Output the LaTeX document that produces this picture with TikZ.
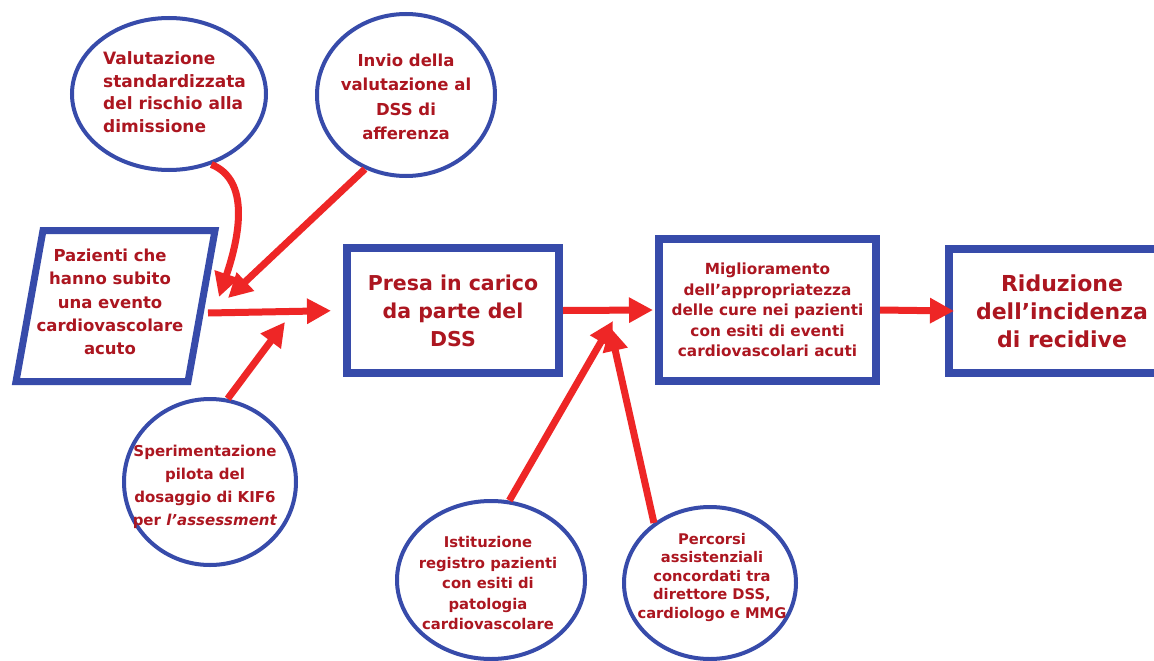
\documentclass[tikz,border=0pt]{standalone}
\usepackage{fontspec}
\setmainfont{DejaVu Sans}
\usetikzlibrary{shapes.geometric, arrows.meta, positioning}
\definecolor{dssblue}{RGB}{55, 75, 170}
\definecolor{arrred}{RGB}{238, 38, 38}
\definecolor{txtred}{RGB}{172, 22, 32}
\newcommand{\txtsize}[2]{\fontsize{#1}{#2}\selectfont}

\begin{document}
\begin{tikzpicture}[x=1pt, y=-1pt,
    box/.style={draw=dssblue, line width=8pt, fill=white, inner sep=0pt, align=center, text=txtred},
    bubble/.style={ellipse, draw=dssblue, line width=4pt, fill=white, inner sep=0pt},
    bubbletxt/.style={align=center, text=txtred, inner sep=0pt},
    flow/.style={draw=arrred, line width=7pt, -{Triangle[length=24pt, width=24pt]}}
]
    \useasboundingbox (0,0) rectangle (1154,661);
    \fill[white] (0,0) rectangle (1154,661);

    % Bubbles
    \node[bubble, minimum width=194pt, minimum height=152pt] (valut) at (169,94) {};
    \node[bubble, minimum width=178pt, minimum height=162pt] (invio) at (406,95) {};
    \node[bubble, minimum width=172pt, minimum height=166pt] (speri) at (210,482) {};
    \node[bubble, minimum width=188pt, minimum height=158pt] (istit) at (491,580) {};
    \node[bubble, minimum width=172pt, minimum height=152pt] (percor) at (710,583) {};

    \node[bubbletxt, align=left, anchor=west, font=\bfseries\txtsize{17}{22.5}] (valut-txt) at (103,92)
        {Valutazione\\standardizzata\\del rischio alla\\dimissione};
    \node[bubbletxt, font=\bfseries\txtsize{16.5}{24.5}] (invio-txt) at (406,97)
        {Invio della\\valutazione al\\DSS di\\afferenza};
    \node[bubbletxt, font=\bfseries\txtsize{15}{23}] (speri-txt) at (205,487)
        {Sperimentazione\\pilota del\\dosaggio di KIF6\\per \textit{l’assessment}};
    \node[bubbletxt, font=\bfseries\txtsize{14.8}{20.5}] (istit-txt) at (488,583)
        {Istituzione\\registro pazienti\\con esiti di\\patologia\\cardiovascolare};
    \node[bubbletxt, font=\bfseries\txtsize{14.7}{18.5}] (percor-txt) at (712,577)
        {Percorsi\\assistenziali\\concordati tra\\direttore DSS,\\cardiologo e MMG};

    % Patients
    \draw[draw=dssblue, line width=7pt, fill=white, line join=miter]
        (43,230.5) -- (215,230.5) -- (188,381.5) -- (16,381.5) -- cycle;
    \node[bubbletxt, font=\bfseries\txtsize{16.5}{23.3}] (paz) at (110,302)
        {Pazienti che\\hanno subito\\una evento\\cardiovascolare\\acuto};
    \coordinate (pazE) at (208,313);

    % Boxes
    \node[box, minimum width=212pt, minimum height=125pt, font=\bfseries\txtsize{20.5}{28}] (presa) at (453,310.5)
        {Presa in carico\\da parte del\\DSS};
    \node[box, minimum width=217pt, minimum height=142pt, font=\bfseries\txtsize{15.3}{20.5}] (migl) at (767.5,310)
        {Miglioramento\\dell’appropriatezza\\delle cure nei pazienti\\con esiti di eventi\\cardiovascolari acuti};
    \node[box, minimum width=226pt, minimum height=124pt, font=\bfseries\txtsize{22}{28}] (ridu) at (1062,311)
        {Riduzione\\dell’incidenza\\di recidive};

    % Main flow
    \draw[flow, shorten >=12pt] (pazE) -- (presa.west);
    \draw[flow, shorten >=2pt] (presa.east) -- (migl.west);
    \draw[flow] (migl.east) -- ([xshift=9pt]ridu.west);

    % Feeders
    \coordinate (tipV) at (219,297);
    \coordinate (tipI) at (228,298);
    \coordinate (tipS) at (285,322);
    \coordinate (tipR) at (613,321);
    \coordinate (tipC) at (610,327);
    \draw[flow] (valut.-59) .. controls (250,180) and (240,235) .. (tipV);
    \foreach \from/\to in {invio.-119/tipI, speri.78/tipS, istit.77/tipR, percor.133/tipC}
        \draw[flow] (\from) -- (\to);
\end{tikzpicture}
\end{document}
